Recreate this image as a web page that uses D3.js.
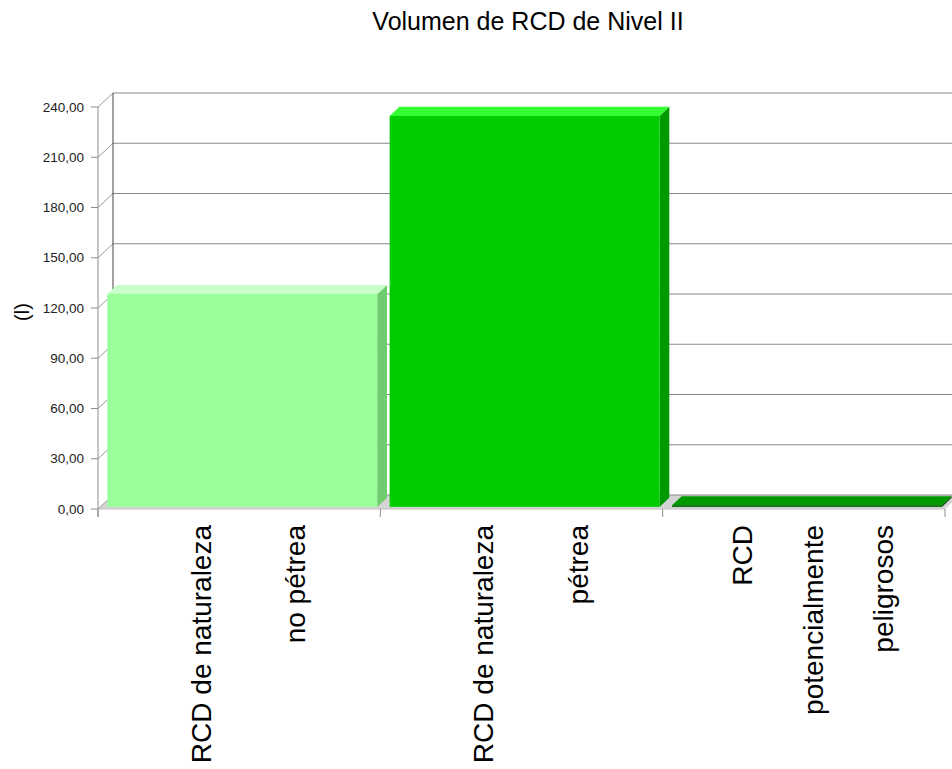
<!DOCTYPE html>
<html>
<head>
<meta charset="utf-8">
<script src="https://cdn.jsdelivr.net/npm/d3@7"></script>
<style>
  html, body { margin: 0; padding: 0; background: #fff; }
  svg { display: block; font-family: "Liberation Sans", Arial, sans-serif; }
</style>
</head>
<body>
<svg id="chart" width="952" height="769"></svg>
<script>
// Chart data
const chartTitle = "Volumen de RCD de Nivel II";
const yAxisTitle = "(l)";
const categories = [
  "RCD de naturaleza no pétrea",
  "RCD de naturaleza pétrea",
  "RCD potencialmente peligrosos"
];
const categoryLines = [
  ["RCD de naturaleza", "no pétrea"],
  ["RCD de naturaleza", "pétrea"],
  ["RCD", "potencialmente", "peligrosos"]
];
const values = [127.1, 233.4, 1.0];
const yTicks = [0, 30, 60, 90, 120, 150, 180, 210, 240];
const frontColors = ["#99ff99", "#00cc00", "#006600"];
const topColors   = ["#c8ffc8", "#33ff33", "#009900"];
const sideColors  = ["#6fcc6f", "#009900", "#004400"];

// Layout
const W = 952, H = 769;
const plot = { left: 98, right: 945, top: 107, bottom: 509 };
const depth = { dx: 15, dy: 14 };          // wall depth offset
const barZ = [0.15, 0.8];                  // bar front/back as fraction of depth
const barInset = 0.025, barFrac = 0.956;   // bar position within its band

const svg = d3.select("#chart");

const y = d3.scaleLinear().domain([0, 240]).range([plot.bottom, plot.top]);
const x = d3.scaleBand().domain(categories).range([plot.left, plot.right]).padding(0);

const locale = d3.formatLocale({ decimal: ",", thousands: ".", grouping: [3], currency: ["", " €"] });
const fmt = locale.format(".2f");

// Floor
svg.append("polygon")
  .attr("points", [
    [plot.left, plot.bottom], [plot.right, plot.bottom],
    [plot.right + depth.dx, plot.bottom - depth.dy], [plot.left + depth.dx, plot.bottom - depth.dy]
  ].map(p => p.join(",")).join(" "))
  .attr("fill", "#d4d4d4");

// Back-wall gridlines and side-wall diagonals
const grid = svg.append("g");
yTicks.forEach(t => {
  const yy = y(t);
  grid.append("line")
    .attr("x1", plot.left + depth.dx).attr("x2", W + 20)
    .attr("y1", yy - depth.dy).attr("y2", yy - depth.dy)
    .attr("stroke", "#8a8a8a").attr("stroke-width", 1);
  grid.append("line")
    .attr("x1", plot.left).attr("y1", yy)
    .attr("x2", plot.left + depth.dx).attr("y2", yy - depth.dy)
    .attr("stroke", "#9a9a9a").attr("stroke-width", 1);
});
// back wall left edge
grid.append("line")
  .attr("x1", plot.left + depth.dx).attr("x2", plot.left + depth.dx)
  .attr("y1", y(240) - depth.dy).attr("y2", y(0) - depth.dy)
  .attr("stroke", "#444").attr("stroke-width", 1);

// Bars (front, top and side faces)
const ox0 = barZ[0] * depth.dx, oy0 = barZ[0] * depth.dy;
const ox1 = barZ[1] * depth.dx, oy1 = barZ[1] * depth.dy;
const bars = svg.append("g");
categories.forEach((c, i) => {
  const bw = x.bandwidth();
  const x0 = x(c) + bw * barInset;
  const x1 = x0 + bw * barFrac;
  const yv = y(values[i]);
  const y0 = y(0);
  const g = bars.append("g");
  // side
  g.append("polygon")
    .attr("points", [
      [x1 + ox0, y0 - oy0], [x1 + ox0, yv - oy0],
      [x1 + ox1, yv - oy1], [x1 + ox1, y0 - oy1]
    ].map(p => p.join(",")).join(" "))
    .attr("fill", sideColors[i]);
  // top
  g.append("polygon")
    .attr("points", [
      [x0 + ox0, yv - oy0], [x1 + ox0, yv - oy0],
      [x1 + ox1, yv - oy1], [x0 + ox1, yv - oy1]
    ].map(p => p.join(",")).join(" "))
    .attr("fill", topColors[i]);
  // front
  g.append("rect")
    .attr("x", x0 + ox0).attr("y", yv - oy0)
    .attr("width", x1 - x0).attr("height", Math.max(0, y0 - yv))
    .attr("fill", frontColors[i]);
});

// Front axes
const axes = svg.append("g").attr("stroke", "#8c8c8c").attr("stroke-width", 1);
axes.append("line")
  .attr("x1", plot.left).attr("x2", plot.left)
  .attr("y1", plot.top).attr("y2", plot.bottom + 8);
axes.append("line")
  .attr("x1", plot.left).attr("x2", plot.right)
  .attr("y1", plot.bottom).attr("y2", plot.bottom)
  .attr("stroke", "#c0c0c0");
yTicks.forEach(t => {
  axes.append("line")
    .attr("x1", plot.left - 7).attr("x2", plot.left)
    .attr("y1", y(t)).attr("y2", y(t));
});
const bounds = categories.map(c => x(c)).concat([plot.right]);
bounds.forEach(b => {
  axes.append("line")
    .attr("x1", b).attr("x2", b)
    .attr("y1", plot.bottom).attr("y2", plot.bottom + 8);
});

// Y tick labels
svg.append("g").selectAll("text")
  .data(yTicks).join("text")
  .attr("x", plot.left - 14)
  .attr("y", d => y(d))
  .attr("dy", "0.35em")
  .attr("text-anchor", "end")
  .attr("font-size", 13.5)
  .attr("fill", "#222")
  .text(d => fmt(d));

// Category labels, one rotated column per line
const xl = svg.append("g");
categories.forEach((c, i) => {
  const lines = categoryLines[i];
  const n = lines.length;
  lines.forEach((ln, j) => {
    const bx = x(c) + x.bandwidth() * (j + 1) / (n + 1) + 19;
    xl.append("text")
      .attr("transform", `translate(${bx},525) rotate(-90)`)
      .attr("text-anchor", "end")
      .attr("font-size", 28)
      .attr("fill", "#000")
      .text(ln);
  });
});

// Y axis title
svg.append("text")
  .attr("transform", "translate(29,312) rotate(-90)")
  .attr("text-anchor", "middle")
  .attr("font-size", 20)
  .attr("fill", "#000")
  .text(yAxisTitle);

// Title
svg.append("text")
  .attr("x", 528).attr("y", 30)
  .attr("text-anchor", "middle")
  .attr("font-size", 25)
  .attr("fill", "#000")
  .text(chartTitle);
</script>
</body>
</html>
